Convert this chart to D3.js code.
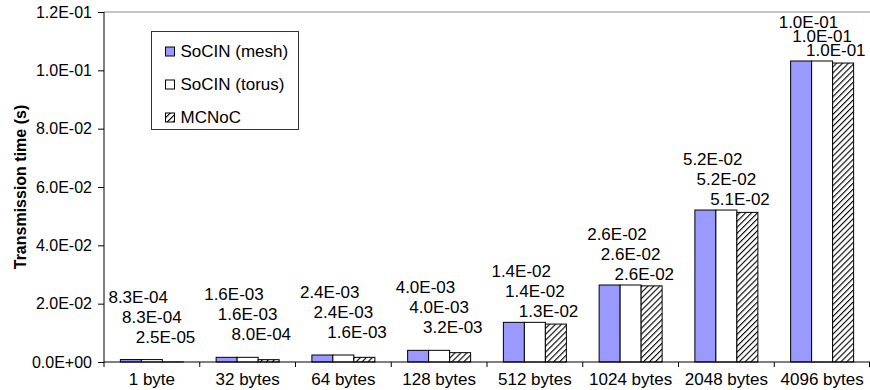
<!DOCTYPE html>
<html>
<head>
<meta charset="utf-8">
<script src="https://cdn.jsdelivr.net/npm/d3@7"></script>
<style>
  body { margin: 0; background: #fff; }
  text { font-family: "Liberation Sans", Arial, sans-serif; fill: #000; }
</style>
</head>
<body>
<div id="chart_div"></div>
<script>
// data
var categories = ["1 byte", "32 bytes", "64 bytes", "128 bytes", "512 bytes", "1024 bytes", "2048 bytes", "4096 bytes"];
var series = ["SoCIN (mesh)", "SoCIN (torus)", "MCNoC"];
var mesh  = [0.00083, 0.0016, 0.0024, 0.0040, 0.0136, 0.0264, 0.0521, 0.1032];
var torus = [0.00083, 0.0016, 0.0024, 0.0040, 0.0136, 0.0264, 0.0521, 0.1032];
var mcnoc = [0.000025, 0.0008, 0.0016, 0.0032, 0.0130, 0.0261, 0.0513, 0.1025];
var yTicks = [0, 0.02, 0.04, 0.06, 0.08, 0.10, 0.12];

var w = 870, h = 390;
var plotLeft = 104, plotRight = 870, plotTop = 12, plotBottom = 362;

var the_svg = d3.select('#chart_div')
  .append('svg')
    .attr('width', w)
    .attr('height', h);

// hatch for MCNoC
var defs = the_svg.append('defs');
defs.append('pattern')
    .attr('id', 'hatch')
    .attr('patternUnits', 'userSpaceOnUse')
    .attr('width', 4.2)
    .attr('height', 4.2)
    .attr('patternTransform', 'rotate(45)')
  .call(function(p) {
    p.append('rect').attr('width', 4.2).attr('height', 4.2).attr('fill', '#fff');
    p.append('line').attr('x1', 0).attr('y1', 0).attr('x2', 0).attr('y2', 4.2)
      .attr('stroke', '#000').attr('stroke-width', 2.2);
  });

var fills = ['#9999FF', '#FFFFFF', 'url(#hatch)'];
var values = [mesh, torus, mcnoc];

var x = d3.scaleBand().domain(categories).range([plotLeft, plotRight]);
var x1 = d3.scaleBand().domain(series).range([0, x.bandwidth()]).paddingOuter(0.78);
var y = d3.scaleLinear().domain([0, 0.12]).range([plotBottom, plotTop]);

function sci(v) {
  var s = v.toExponential(1).split('e');
  var e = +s[1];
  var sign = e < 0 ? '-' : '+';
  e = Math.abs(e);
  return s[0] + 'E' + sign + (e < 10 ? '0' : '') + e;
}

// top border line
the_svg.append('line')
  .attr('x1', plotLeft).attr('x2', plotRight).attr('y1', plotTop).attr('y2', plotTop)
  .attr('stroke', '#b0b0b0').attr('stroke-width', 1.5);

// y axis
var yAxis = d3.axisLeft(y).tickValues(yTicks).tickSize(6).tickPadding(6).tickFormat(sci);
the_svg.append('g')
  .attr('transform', 'translate(' + plotLeft + ',0)')
  .call(yAxis)
  .call(function(g) {
    g.selectAll('text').style('font-size', '16px').attr('fill', '#000');
    g.selectAll('line, path').attr('stroke', '#000');
    g.select('.domain').attr('d', 'M0,' + plotTop + 'V' + plotBottom);
  });

// bars
var groups = the_svg.append('g').selectAll('g')
  .data(categories)
  .join('g')
    .attr('transform', function(d) { return 'translate(' + x(d) + ',0)'; });

groups.each(function(cat, ci) {
  var g = d3.select(this);
  series.forEach(function(s, si) {
    var v = values[si][ci];
    g.append('rect')
      .attr('x', x1(s))
      .attr('y', y(v))
      .attr('width', x1.bandwidth())
      .attr('height', plotBottom - y(v))
      .attr('fill', fills[si])
      .attr('stroke', '#000')
      .attr('stroke-width', 1);
  });

  // stacked value labels above the group
  var maxTop = y(d3.max(values, function(arr) { return arr[ci]; }));
  var lowest = maxTop - 11 - (maxTop > 345 ? 12 : 0);
  var step = Math.min(20, (lowest - 22) / 2);
  var mid = x.bandwidth() / 2;
  series.forEach(function(s, si) {
    var barMid = x1(s) + x1.bandwidth() / 2;
    g.append('text')
      .attr('x', mid + (barMid - mid) * 0.65)
      .attr('y', lowest - (2 - si) * step)
      .attr('dy', '0.35em')
      .attr('text-anchor', 'middle')
      .style('font-size', '17px')
      .text(sci(values[si][ci]));
  });
});

// x axis
var xAxis = d3.axisBottom(x).tickSize(0).tickPadding(11);
the_svg.append('g')
  .attr('transform', 'translate(0,' + plotBottom + ')')
  .call(xAxis)
  .call(function(g) {
    g.select('.domain').attr('stroke', '#000').attr('d', 'M' + plotLeft + ',0H' + plotRight);
    g.selectAll('text').style('font-size', '17px').attr('fill', '#000');
  });
// category separators
the_svg.append('g').selectAll('line')
  .data(categories)
  .join('line')
    .attr('x1', function(d) { return x(d); })
    .attr('x2', function(d) { return x(d); })
    .attr('y1', plotBottom)
    .attr('y2', plotBottom + 5)
    .attr('stroke', '#000');
the_svg.append('line')
  .attr('x1', plotRight - 0.5).attr('x2', plotRight - 0.5).attr('y1', plotBottom).attr('y2', plotBottom + 5)
  .attr('stroke', '#000');

// y title
the_svg.append('text')
  .attr('transform', 'translate(20,' + ((plotTop + plotBottom) / 2) + ') rotate(-90)')
  .attr('text-anchor', 'middle')
  .attr('dy', '0.35em')
  .style('font-size', '16px')
  .style('font-weight', 'bold')
  .text('Transmission time (s)');

// legend
var legend = the_svg.append('g').attr('transform', 'translate(151,31)');
legend.append('rect')
  .attr('x', 0.5).attr('y', 0.5)
  .attr('width', 147).attr('height', 98)
  .attr('fill', '#fff')
  .attr('stroke', '#333');
var items = legend.selectAll('g')
  .data(series)
  .join('g')
    .attr('transform', function(d, i) { return 'translate(14,' + (20.5 + i * 33) + ')'; });
items.append('rect')
  .attr('x', 0.5).attr('y', -4.5)
  .attr('width', 9).attr('height', 9)
  .attr('fill', function(d, i) { return fills[i]; })
  .attr('stroke', '#000');
items.append('text')
  .attr('x', 15.5)
  .attr('dy', '0.35em')
  .style('font-size', '17px')
  .text(function(d) { return d; });
</script>
</body>
</html>
